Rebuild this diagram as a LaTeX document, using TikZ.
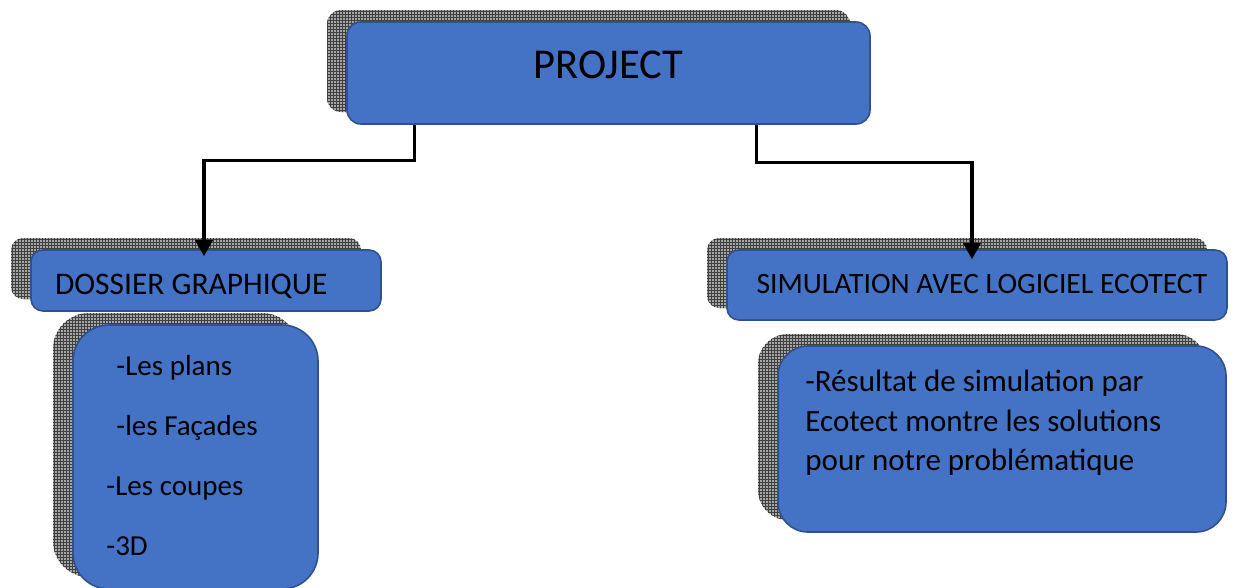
\documentclass[tikz,border=0pt]{standalone}
\usepackage{fontspec}
\setmainfont{Carlito}
\usepackage{tikz}
\usetikzlibrary{arrows.meta}
\usetikzlibrary{patterns}
\usetikzlibrary{positioning}

\definecolor{boxblue}{HTML}{4472C4}
\definecolor{boxline}{HTML}{2F528F}

\tikzset{
  shadowed/.style={
    preaction={fill=black!35, transform canvas={xshift=-20pt, yshift=12pt}},
    preaction={pattern=grid, pattern color=black!75, transform canvas={xshift=-20pt, yshift=12pt}}},
  bluebox/.style={draw=boxline, line width=1.6pt, fill=boxblue, shadowed, rounded corners=#1},
  bluebox/.default=14pt,
  bodytext/.style={font=\fontsize{31}{39.5}\selectfont, align=left, inner sep=0pt},
  link/.style={-{Triangle[width=17pt,length=16pt]}, line width=3.3pt, rounded corners=0pt}
}

\begin{document}
\begin{tikzpicture}[x=1pt, y=-1pt]
      \useasboundingbox (0,0) rectangle (1246,587);
      % boxes
      \node[bluebox, minimum width=523pt, minimum height=102pt, font=\fontsize{42.5}{48}\selectfont,
            text height=27.4pt, text depth=16pt] at (608.5,73) (project){PROJECT};
      \node[bluebox=12pt, minimum height=61pt, inner xsep=24pt, font=\fontsize{31.5}{36}\selectfont,
            text height=30pt, text depth=3pt] at (206,280.5) (dossier){\makebox[302pt][l]{DOSSIER GRAPHIQUE}};
      \node[bluebox=12pt, minimum width=500pt, minimum height=70pt, font=\fontsize{29.6}{34}\selectfont,
            text height=21pt, text depth=5pt] at (977,285) (simulation){\hspace{10pt}SIMULATION AVEC LOGICIEL ECOTECT};
      \node[bluebox=36pt, minimum width=245pt, minimum height=264pt] at (195.5,457) (plans){};
      \node[bluebox=30pt, minimum width=448pt, minimum height=186pt] at (1002,439) (resultat){};
      % texts
      \node[bodytext, font=\fontsize{29}{60}\selectfont, anchor=north west] at ([xshift=34pt,yshift=-31pt]plans.north west) (planstext){%
        \hspace{10pt}-Les plans\\
        \hspace{10pt}-les Façades\\
        -Les coupes\\
        -3D};
      \node[bodytext, anchor=north west] at ([xshift=28pt,yshift=-25pt]resultat.north west) (resultattext){%
        -Résultat de simulation par\\
        Ecotect montre les solutions\\
        pour notre problématique};
      % connectors
      \draw[link] ([xshift=-194pt]project.south) -- ++(0,36) -| ([xshift=-2pt,yshift=-7pt]dossier.north);
      \draw[link] ([xshift=148pt]project.south) -- ++(0,38) -| ([xshift=-5pt,yshift=-10pt]simulation.north);
    \end{tikzpicture}
\end{document}
